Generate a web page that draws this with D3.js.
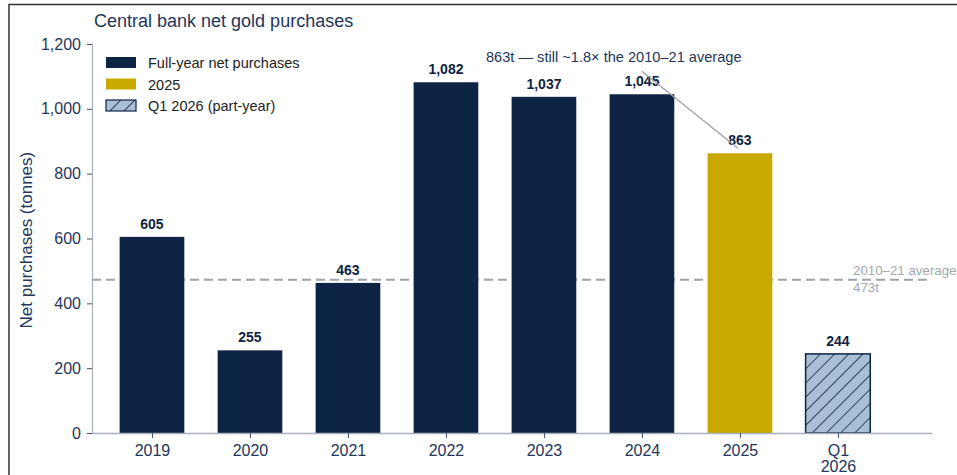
<!DOCTYPE html>
<html>
<head>
<meta charset="utf-8">
<script src="https://cdn.jsdelivr.net/npm/d3@7"></script>
<style>
    body { margin: 0; background: #fff; }
    svg { display: block; font-family: "Liberation Sans", Arial, sans-serif; }
</style>
</head>
<body>
<div id="chart"></div>
<script>
// Data
const categories = ["2019", "2020", "2021", "2022", "2023", "2024", "2025", "Q1\n2026"];
const values = [605, 255, 463, 1082, 1037, 1045, 863, 244];
const kinds = ["full", "full", "full", "full", "full", "full", "gold", "part"];
const yTicks = [0, 200, 400, 600, 800, 1000, 1200];
const average = 473;
const legendLabels = ["Full-year net purchases", "2025", "Q1 2026 (part-year)"];
const legendKinds = ["full", "gold", "part"];

const width = 957;
const height = 475;
const navy = "#0e2444";
const gold = "#c9a800";
const lightBlue = "#a9bfd6";
const textColor = "#23365a";

const svg = d3.select('#chart')
    .append('svg')
    .attr('width', width)
    .attr('height', height);

// Hatch pattern
const defs = svg.append('defs');
const pat = defs.append('pattern')
    .attr('id', 'hatch')
    .attr('patternUnits', 'userSpaceOnUse')
    .attr('width', 10)
    .attr('height', 10)
    .attr('patternTransform', 'rotate(45)');
pat.append('rect').attr('width', 10).attr('height', 10).attr('fill', lightBlue);
pat.append('line')
    .attr('x1', 0).attr('y1', 0).attr('x2', 0).attr('y2', 10)
    .attr('stroke', navy).attr('stroke-width', 1.6);

const fillFor = k => k === 'full' ? navy : k === 'gold' ? gold : 'url(#hatch)';

// Frame
svg.append('path')
    .attr('d', `M9,${height} L9,4.5 L${width},4.5`)
    .attr('fill', 'none')
    .attr('stroke', '#333')
    .attr('stroke-width', 1.5);

// Scales
const xScale = d3.scaleLinear()
    .domain([-0.612, 7.96])
    .range([92, 932]);
const yScale = d3.scaleLinear()
    .domain([0, 1200])
    .range([433, 44]);
const barW = 0.66;

// Title
svg.append('text')
    .attr('x', 94).attr('y', 27)
    .attr('font-size', 18)
    .attr('fill', textColor)
    .text('Central bank net gold purchases');

// Y axis
const yAxis = d3.axisLeft(yScale)
    .tickValues(yTicks)
    .tickFormat(d3.format(','))
    .tickSize(5)
    .tickPadding(6);
const gy = svg.append('g')
    .attr('transform', 'translate(92,0)')
    .call(yAxis);
gy.select('.domain').attr('stroke', '#a7afbd').attr('stroke-width', 1.2);
gy.selectAll('.tick line').attr('stroke', '#44506a');
gy.selectAll('.tick text').attr('font-size', 16).attr('fill', textColor)
    .attr('font-family', '"Liberation Sans", Arial, sans-serif');

// Y label
svg.append('text')
    .attr('transform', `translate(32, ${yScale(595)}) rotate(-90)`)
    .attr('text-anchor', 'middle')
    .attr('font-size', 17)
    .attr('fill', textColor)
    .text('Net purchases (tonnes)');

// Average line
svg.append('line')
    .attr('x1', 92).attr('x2', 930)
    .attr('y1', yScale(average)).attr('y2', yScale(average))
    .attr('stroke', '#9ea3ab')
    .attr('stroke-width', 2)
    .attr('stroke-dasharray', '9,5');

svg.append('text')
    .attr('x', 853).attr('y', yScale(average) - 5)
    .attr('font-size', 13.3).attr('fill', '#a3a7ae')
    .text('2010–21 average');
svg.append('text')
    .attr('x', 853).attr('y', yScale(average) + 12)
    .attr('font-size', 13.3).attr('fill', '#a3a7ae')
    .text(`${average}t`);

// Bars
svg.selectAll('rect.bar')
    .data(values)
    .enter()
    .append('rect')
    .attr('class', 'bar')
    .attr('x', (d, i) => xScale(i - barW / 2))
    .attr('width', xScale(barW) - xScale(0))
    .attr('y', d => yScale(d))
    .attr('height', d => yScale(0) - yScale(d))
    .attr('fill', (d, i) => fillFor(kinds[i]))
    .attr('stroke', (d, i) => kinds[i] === 'part' ? navy : 'none')
    .attr('stroke-width', 1.5);

// Bar labels
svg.selectAll('text.val')
    .data(values)
    .enter()
    .append('text')
    .attr('class', 'val')
    .attr('x', (d, i) => xScale(i))
    .attr('y', d => yScale(d) - 8)
    .attr('text-anchor', 'middle')
    .attr('font-size', 14)
    .attr('font-weight', 'bold')
    .attr('fill', navy)
    .text(d3.format(','));

// X axis
const xAxis = d3.axisBottom(xScale)
    .tickValues(d3.range(categories.length))
    .tickFormat('')
    .tickSize(5);
const gx = svg.append('g')
    .attr('transform', 'translate(0,433)')
    .call(xAxis);
gx.select('.domain').attr('d', 'M92,0.5H932').attr('stroke', '#a7afbd').attr('stroke-width', 1.5);
gx.selectAll('.tick line').attr('stroke', '#44506a');
gx.selectAll('.tick').each(function (d, i) {
    const lines = categories[i].split('\n');
    const t = d3.select(this).append('text')
        .attr('fill', textColor)
        .attr('font-size', 16)
        .attr('text-anchor', 'middle');
    lines.forEach((l, j) => {
        t.append('tspan').attr('x', 0).attr('y', 23 + j * 16).text(l);
    });
});

// Annotation
svg.append('line')
    .attr('x1', xScale(5)).attr('y1', yScale(1045) - 23)
    .attr('x2', xScale(6) - 2).attr('y2', yScale(863) - 5)
    .attr('stroke', '#9ea3ab')
    .attr('stroke-width', 1.3);
svg.append('text')
    .attr('x', 486).attr('y', 62)
    .attr('font-size', 14.6)
    .attr('fill', textColor)
    .text('863t — still ~1.8× the 2010–21 average');

// Legend
const leg = svg.append('g').attr('transform', 'translate(106,57)');
legendLabels.forEach((lab, i) => {
    const g = leg.append('g').attr('transform', `translate(0, ${i * 21.5})`);
    g.append('rect')
        .attr('width', 30).attr('height', 11)
        .attr('fill', fillFor(legendKinds[i]))
        .attr('stroke', legendKinds[i] === 'part' ? navy : 'none')
        .attr('stroke-width', 1.2);
    g.append('text')
        .attr('x', 42).attr('y', 11)
        .attr('font-size', 14.5)
        .attr('fill', '#222')
        .text(lab);
});
</script>
</body>
</html>
